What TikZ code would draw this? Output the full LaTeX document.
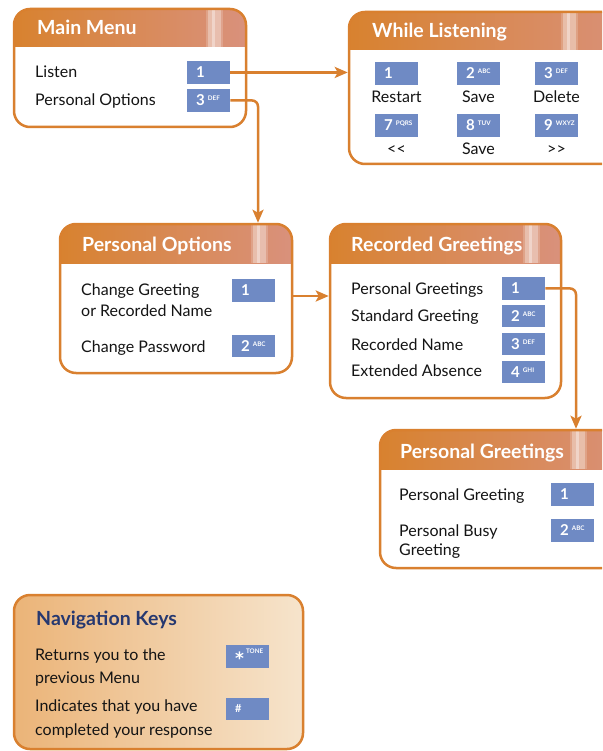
\documentclass[tikz,border=0pt]{standalone}
\usepackage{fontspec}
\setmainfont{Lato}
\newfontfamily\symfont{DejaVu Sans}
\usetikzlibrary{arrows.meta,fit,calc}
\definecolor{orng}{HTML}{D9802F}
\definecolor{keyblue}{HTML}{6F8AC4}
\definecolor{txt}{HTML}{141414}
\definecolor{hdrL}{HTML}{D8822F}
\definecolor{hdrM}{HTML}{D8864C}
\definecolor{hdrR}{HTML}{D9917C}
\definecolor{navL}{HTML}{EBB478}
\definecolor{navR}{HTML}{F6E4CC}
\definecolor{navT}{HTML}{263870}
\newcommand\keysup[1]{\hspace{3pt}\raisebox{5pt}{\fontsize{6.3}{6.3}\selectfont #1}}
\newcommand\kk[2]{\rlap{#1\keysup{#2}}}
\newcommand\mypanel[7]{% name x1 y1 x2 y2 headerbottom streakx
  \begin{scope}
    \clip[rounded corners=16pt] (#2,#3) rectangle (#4,#5);
    \shade[left color=hdrL, middle color=hdrM, right color=hdrR] (#2,#3) rectangle (#4,#6);
    \fill[white, opacity=.18] ($(#7,#3)+(-2,0)$) rectangle ($(#7,#6)+(15,0)$);
    \fill[white, opacity=.30] (#7,#3) rectangle ($(#7,#6)+(13,0)$);
    \fill[white, opacity=.35] ($(#7,#3)+(4,0)$) rectangle ($(#7,#6)+(7,0)$);
  \end{scope}
  \node[panelbox, fit={(#2,#3) (#4,#5)}] (#1) {};
}
\tikzset{
  key/.style={fill=keyblue, minimum width=43pt, minimum height=22.5pt, inner xsep=9pt, inner ysep=0pt,
    text width=25pt, align=left, text=white, font=\fontsize{15}{15}\selectfont\bfseries, anchor=north west},
  lbl/.style={anchor=base west, inner sep=0pt, font=\fontsize{16}{16}\selectfont, text=txt},
  clbl/.style={lbl, anchor=base},
  ttl/.style={anchor=base west, inner sep=0pt, font=\fontsize{19.5}{19.5}\selectfont\bfseries, text=white},
  panelbox/.style={draw=orng, line width=2.5pt, rounded corners=16pt, inner sep=0pt},
  conn/.style={draw=orng, line width=2.5pt, -{Stealth[length=13pt,width=11pt,inset=3pt]}, rounded corners=6pt},
}
\begin{document}
\begin{tikzpicture}[x=1pt, y=-1pt]
\useasboundingbox (0,0) rectangle (602,751);
\clip (0,0) rectangle (602,751);
\fill[white] (0,0) rectangle (602,751);

% Main Menu
\mypanel{mm}{14}{9}{246}{127}{47}{208}
\node[ttl] (mmt) at (37,35) {Main Menu};
\node[lbl] (mml1) at (35,78) {Listen};
\node[lbl] (mml2) at (35,106) {Personal Options};
\node[key] (mk1) at (187,61) {\kk{1}{}};
\node[key] (mk3) at (187,89) {\kk{3}{DEF}};

% While Listening
\mypanel{wl}{349}{12}{640}{164}{50}{563}
\node[ttl] (wlt) at (372,38) {While Listening};
\node[key] (wk1) at (375,62) {\kk{1}{}};
\node[key] (wk2) at (457,62) {\kk{2}{ABC}};
\node[key] (wk3) at (535,62) {\kk{3}{DEF}};
\node[clbl] (wl1) at (396.5,103) {Restart};
\node[clbl] (wl2) at (478.5,103) {Save};
\node[clbl] (wl3) at (556.5,103) {Delete};
\node[key] (wk7) at (375,114) {\kk{7}{PQRS}};
\node[key] (wk8) at (457,114) {\kk{8}{TUV}};
\node[key] (wk9) at (535,114) {\kk{9}{WXYZ}};
\node[clbl] (wl7) at (396.5,155) {{<}{<}};
\node[clbl] (wl8) at (478.5,155) {Save};
\node[clbl] (wl9) at (556.5,155) {{>}{>}};

% Personal Options
\mypanel{po}{60}{224}{292}{373}{263}{253}
\node[ttl] (pot) at (82,251) {Personal Options};
\node[lbl] (pol1) at (81,295) {Change Greeting};
\node[lbl] (pol1b) at (81,316) {or Recorded Name};
\node[lbl] (pol2) at (81,352) {Change Password};
\node[key] (pk1) at (232,279) {\kk{1}{}};
\node[key] (pk2) at (232,334.5) {\kk{2}{ABC}};

% Recorded Greetings
\mypanel{rg}{330}{224}{561}{398}{263}{525}
\node[ttl] (rgt) at (351,251) {Recorded Greetings};
\node[lbl] (rgl1) at (351,294) {Personal Greetings};
\node[lbl] (rgl2) at (351,321.5) {Standard Greeting};
\node[lbl] (rgl3) at (351,350) {Recorded Name};
\node[lbl] (rgl4) at (351,376.5) {Extended Absence};
\node[key] (rk1) at (502,277) {\kk{1}{}};
\node[key] (rk2) at (502,304.5) {\kk{2}{ABC}};
\node[key] (rk3) at (502,332.5) {\kk{3}{DEF}};
\node[key] (rk4) at (502,360.5) {\kk{4}{GHI}};

% Personal Greetings
\mypanel{pg}{380}{430}{640}{568}{469}{572}
\node[ttl] (pgt) at (400,458) {Personal Greetings};
\node[lbl] (pgl1) at (399,500) {Personal Greeting};
\node[lbl] (pgl2) at (399,536) {Personal Busy};
\node[lbl] (pgl2b) at (399,555) {Greeting};
\node[key] (gk1) at (551,483) {\kk{1}{}};
\node[key] (gk2) at (551,519) {\kk{2}{ABC}};

% Navigation Keys
\node[panelbox, left color=navL, right color=navR, fit={(14,595) (303,749)}] (nav) {};
\node[ttl, text=navT] (navt) at (36,625) {Navigation Keys};
\node[lbl] (nl1) at (35,660) {Returns you to the};
\node[lbl] (nl1b) at (35,683) {previous Menu};
\node[lbl] (nl2) at (35,711.5) {Indicates that you have};
\node[lbl] (nl2b) at (35,735) {completed your response};
\node[key] (nk1) at (226,645) {\rlap{\raisebox{-6pt}{\symfont\bfseries\fontsize{17}{17}\selectfont *}\hspace{-1pt}\keysup{TONE}}};
\node[key] (nk2) at (226,697.5) {\fontsize{11}{11}\selectfont\#};

% connectors
\draw[conn] (mk1.east) -- (mk1.east -| wl.west);
\draw[conn] (mk3.east) -| ([xshift=82pt]po.north);
\draw[conn] ([yshift=2.5pt]po.east) -- ([yshift=2.5pt]po.east -| rg.west);
\draw[conn] (rk1.east) -| ([xshift=66pt]pg.north);
\end{tikzpicture}
\end{document}
